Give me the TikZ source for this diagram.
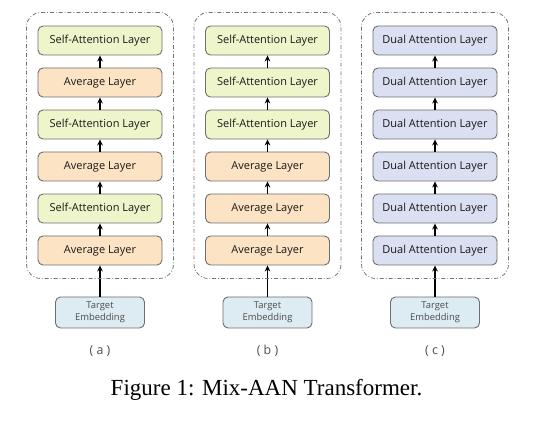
\documentclass[tikz,border=0pt]{standalone}
\usepackage{fontspec}
\setmainfont{Liberation Serif}
\setsansfont{Open Sans}
\usetikzlibrary{positioning,fit,arrows.meta}

\definecolor{safill}{HTML}{EEF5CB}
\definecolor{avgfill}{HTML}{FCE3C3}
\definecolor{dualfill}{HTML}{DADFF2}
\definecolor{embfill}{HTML}{DDEBF2}
\definecolor{edgegray}{HTML}{6E6E6E}

\tikzset{
  layer/.style={draw=edgegray, line width=0.45pt, rounded corners=2.5pt,
    minimum width=62pt, minimum height=14.5pt, inner sep=0pt,
    font=\sffamily\fontsize{5.5}{6.5}\selectfont, text=black!90},
  sa/.style={layer, fill=safill},
  avg/.style={layer, fill=avgfill},
  dual/.style={layer, fill=dualfill},
  embed/.style={draw=edgegray, line width=0.45pt, rounded corners=2.5pt, fill=embfill,
    minimum width=44.5pt, minimum height=15.5pt, inner sep=0pt, align=center,
    font=\sffamily\fontsize{4.7}{6}\selectfont, text=black!70},
  panel/.style={draw=black!55, line width=0.4pt, rounded corners=7pt,
    dash pattern=on 2pt off 1pt on 0.4pt off 1pt,
    inner xsep=5.5pt, inner ysep=6.5pt},
  flow/.style={-{Stealth[length=3pt,width=2.8pt]}, line width=0.6pt},
  tag/.style={font=\sffamily\fontsize{6.2}{7}\selectfont, text=black!70},
  caption/.style={font=\fontsize{11.5}{13}\selectfont}
}

\begin{document}
\begin{tikzpicture}[x=0.5pt,y=-0.5pt]
  \useasboundingbox (0,0) rectangle (546,427);

  % Panel (a): alternating layers
  \node[embed] (a0) at (100,312.5) {Target\\Embedding};
  \foreach \s/\t [count=\i] in {avg/Average Layer,sa/Self-Attention Layer,avg/Average Layer,
                                sa/Self-Attention Layer,avg/Average Layer,sa/Self-Attention Layer} {
    \pgfmathtruncatemacro\j{\i-1}
    \node[\s] (a\i) at (100,292.5-42*\i) {\t};
    \draw[flow] (a\j) -- (a\i);
  }
  \node[panel, fit=(a1)(a6)] (boxA) {};
  \node[tag, below=5pt of a0] (labA) {( a )};

  % Panel (b): averages below, self-attention on top
  \node[embed] (b0) at (267.5,312.5) {Target\\Embedding};
  \foreach \s/\t [count=\i] in {avg/Average Layer,avg/Average Layer,avg/Average Layer,
                                sa/Self-Attention Layer,sa/Self-Attention Layer,sa/Self-Attention Layer} {
    \pgfmathtruncatemacro\j{\i-1}
    \node[\s] (b\i) at (267.5,292.5-42*\i) {\t};
    \draw[flow] (b\j) -- (b\i);
  }
  \node[panel, fit=(b1)(b6)] (boxB) {};
  \node[tag, below=5pt of b0] (labB) {( b )};

  % Panel (c): dual attention
  \node[embed] (c0) at (435,312.5) {Target\\Embedding};
  \foreach \i in {1,...,6} {
    \pgfmathtruncatemacro\j{\i-1}
    \node[dual] (c\i) at (435,292.5-42*\i) {Dual Attention Layer};
    \draw[flow] (c\j) -- (c\i);
  }
  \node[panel, fit=(c1)(c6)] (boxC) {};
  \node[tag, below=5pt of c0] (labC) {( c )};

  % Caption
  \node[caption] (cap) at (266.5,390) {Figure 1: Mix-AAN Transformer.};
\end{tikzpicture}
\end{document}
